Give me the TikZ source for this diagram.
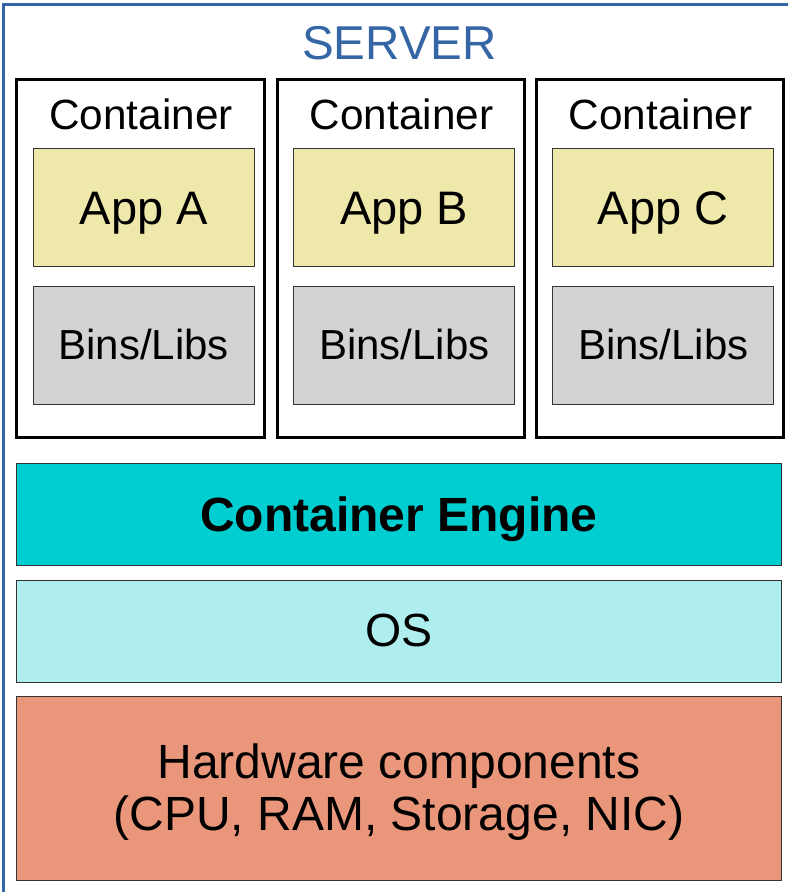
\documentclass[tikz,border=0pt]{standalone}
\usepackage{fontspec}
\setmainfont{Liberation Sans}
\definecolor{serverblue}{HTML}{3465A4}
\definecolor{appyellow}{HTML}{EEE8AA}
\definecolor{binsgray}{HTML}{D3D3D3}
\definecolor{engineteal}{HTML}{00CED1}
\definecolor{oscyan}{HTML}{AFEEEE}
\definecolor{hwsalmon}{HTML}{E9967A}
\definecolor{edgegray}{HTML}{333333}
\tikzset{
  containerbox/.style={draw=black, line width=3pt, fill=white},
  innerbox/.style={draw=edgegray, line width=1pt},
  lbl/.style={inner sep=0pt, anchor=base, text=black},
}
\begin{document}
\begin{tikzpicture}[x=1pt,y=-1pt]
\useasboundingbox (0,0) rectangle (788,892);
\clip (0,0) rectangle (788,892);
\fill[white] (0,0) rectangle (788,892);
% server frame
\draw[serverblue, line width=3pt] (3.5,4) rectangle (800,900);
\node[lbl, text=serverblue, font=\fontsize{47.5}{50}\selectfont] (server) at (399.5,59.3) {SERVER};
% containers
\foreach \i/\x/\app in {1/16.5/A, 2/277/B, 3/536/C} {
  \draw[containerbox] (\x,79) rectangle ++(247.5,358);
  \node[lbl, font=\fontsize{42.3}{45}\selectfont] (clabel\i) at (\x+124.5,129.5) {Container};
  \draw[innerbox, fill=appyellow] (\x+16.8,148.3) rectangle (\x+237.8,266.3);
  \node[lbl, font=\fontsize{47}{50}\selectfont] (app\i) at (\x+127.3,224) {App \app};
  \draw[innerbox, fill=binsgray] (\x+16.8,286.7) rectangle (\x+237.8,404.3);
  \node[lbl, font=\fontsize{42}{45}\selectfont] (bins\i) at (\x+127.3,359) {Bins/Libs};
}
% layers
\draw[innerbox, fill=engineteal] (16,463.3) rectangle (781.7,565);
\node[lbl, font=\fontsize{48}{50}\selectfont\bfseries] (engine) at (399,531.5) {Container Engine};
\draw[innerbox, fill=oscyan] (16,580) rectangle (781.7,682);
\node[lbl, font=\fontsize{46.5}{50}\selectfont] (os) at (399,646.5) {OS};
\draw[innerbox, fill=hwsalmon] (16,696.7) rectangle (781.7,880);
\node[lbl, font=\fontsize{48}{50}\selectfont] (hw1) at (399,778.5) {Hardware components};
\node[lbl, font=\fontsize{48}{50}\selectfont] (hw2) at (399,830.5) {(CPU, RAM, Storage, NIC)};
\end{tikzpicture}
\end{document}
